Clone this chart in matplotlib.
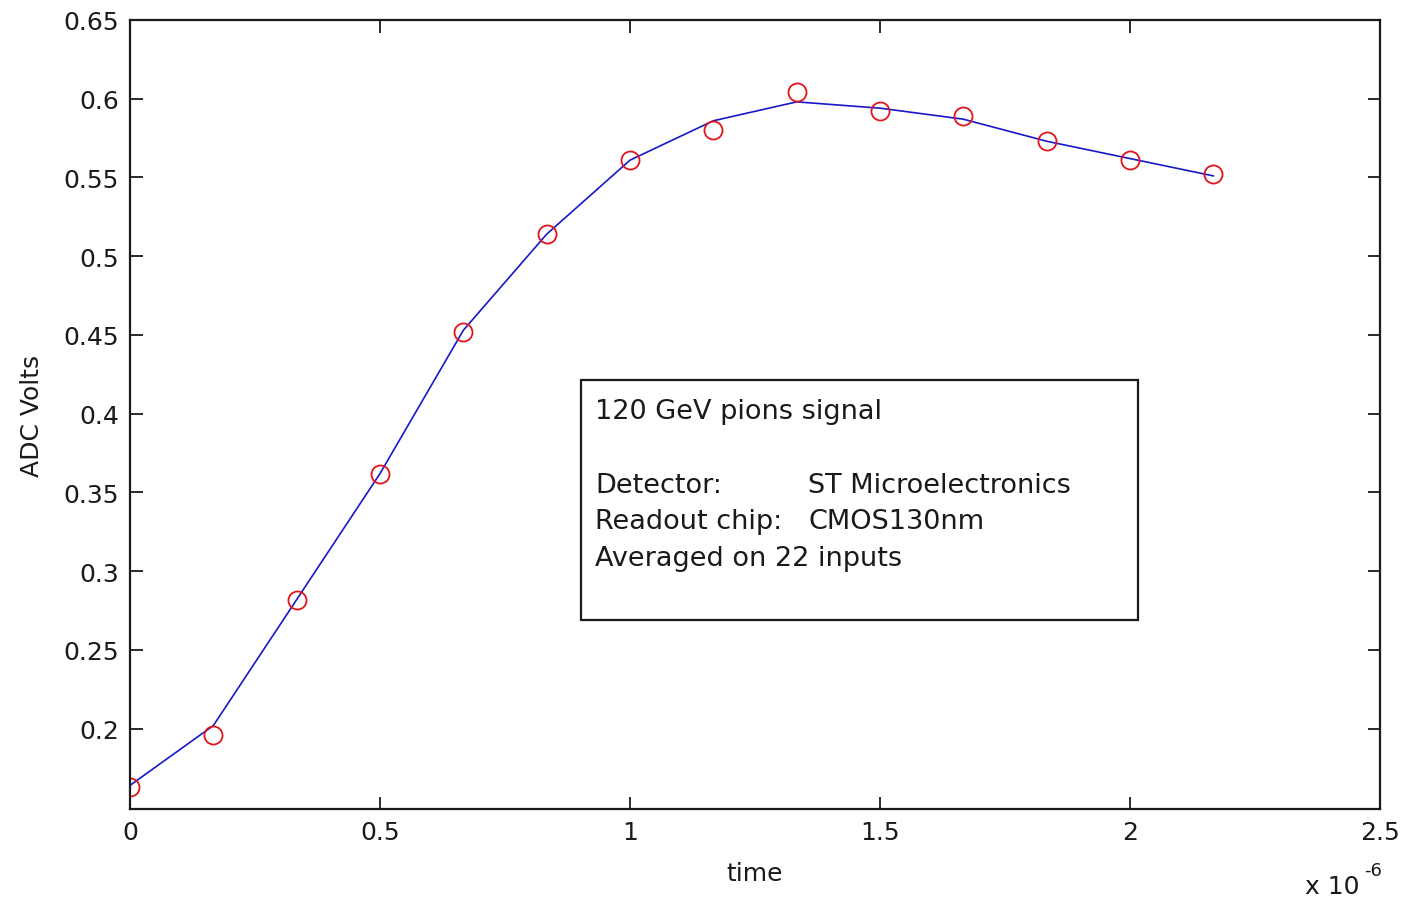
import matplotlib.pyplot as plt
from matplotlib.patches import Rectangle

# sample times (s) and measured ADC voltages
time_us = [0.0, 1/6, 2/6, 3/6, 4/6, 5/6, 1.0, 7/6, 8/6, 9/6, 10/6, 11/6, 2.0, 13/6]
adc_measured = [0.163, 0.196, 0.282, 0.362, 0.452, 0.514, 0.561,
                0.580, 0.604, 0.592, 0.589, 0.573, 0.561, 0.552]
adc_fit = [0.164, 0.202, 0.282, 0.362, 0.453, 0.514, 0.561,
           0.586, 0.598, 0.594, 0.587, 0.573, 0.562, 0.551]

xticks_us = [0, 0.5, 1, 1.5, 2, 2.5]
xtick_labels = ["0", "0.5", "1", "1.5", "2", "2.5"]
yticks = [0.2, 0.25, 0.3, 0.35, 0.4, 0.45, 0.5, 0.55, 0.6, 0.65]
ytick_labels = ["0.2", "0.25", "0.3", "0.35", "0.4", "0.45", "0.5", "0.55", "0.6", "0.65"]

info_title = "120 GeV pions signal"
info_keys = ["Detector:", "Readout chip:", "Averaged on 22 inputs"]
info_vals = ["ST Microelectronics", "CMOS130nm", ""]

plt.rcParams["font.family"] = ["DejaVu Sans"]
fs = 18
box_fs = 19.5
ink = "#1a1a1a"

t = [v * 1e-6 for v in time_us]

fig = plt.figure(figsize=(14.03, 9.04), dpi=100)
ax = fig.add_axes([0.0927, 0.104, 0.8909, 0.8728])

ax.plot(t, adc_fit, color="#1818c8", lw=1.2)
ax.plot(t, adc_measured, ls="none", marker="o", ms=13, mfc="none",
        mec="#e0141e", mew=1.3)

ax.set_xlim(0, 2.5e-6)
ax.set_ylim(0.149, 0.65)
ax.set_xticks([v * 1e-6 for v in xticks_us])
ax.set_xticklabels(xtick_labels)
ax.set_yticks(yticks)
ax.set_yticklabels(ytick_labels)
ax.tick_params(direction="in", length=9, width=1.3, labelsize=fs, color=ink,
               top=True, right=True, pad=8, labelcolor=ink)
for s in ax.spines.values():
    s.set_linewidth(1.6)
    s.set_color(ink)

ax.set_xlabel("time", fontsize=fs, color=ink, labelpad=12)
ax.set_ylabel("ADC Volts", fontsize=fs, color=ink, labelpad=14)

# x-axis scale factor, MATLAB style
fig.text(0.930, 0.005, "x 10", fontsize=fs, color=ink, ha="left", va="bottom")
fig.text(0.972, 0.027, "-6", fontsize=13, color=ink, ha="left", va="bottom")

# annotation box
ax.add_patch(Rectangle((0.3608, 0.2395), 0.4456, 0.3042, transform=ax.transAxes,
                       fill=False, lw=1.6, ec=ink))
ax.text(0.372, 0.5044, info_title, transform=ax.transAxes, fontsize=box_fs,
        va="center", ha="left", color=ink)
for ypos, k, v in zip([0.4106, 0.365, 0.318], info_keys, info_vals):
    ax.text(0.372, ypos, k, transform=ax.transAxes, fontsize=box_fs,
            va="center", ha="left", color=ink)
    if v:
        ax.text(0.5424, ypos, v, transform=ax.transAxes, fontsize=box_fs,
                va="center", ha="left", color=ink)

fig.savefig("out.png", dpi=100)
